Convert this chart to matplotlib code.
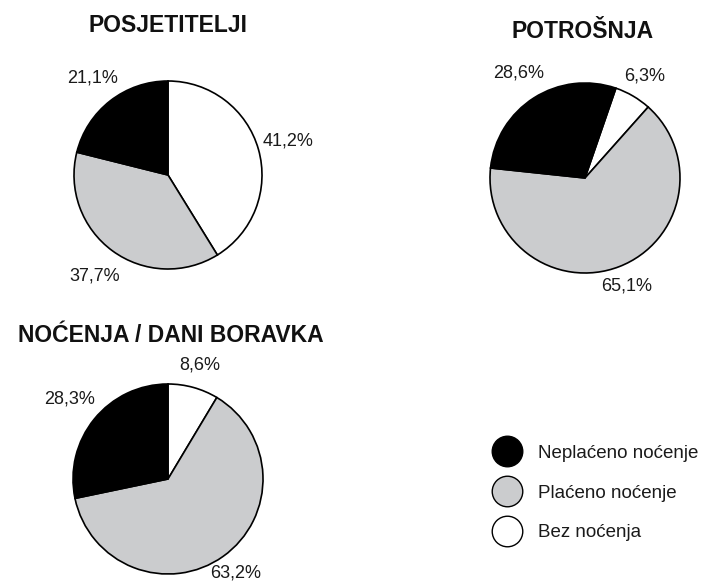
"""Three pie charts: visitors, spending and nights by accommodation type."""

import numpy as np
import matplotlib.pyplot as plt
from matplotlib.lines import Line2D

W, H = 703, 583

categories = ["Bez noćenja", "Plaćeno noćenje", "Neplaćeno noćenje"]
colors = ["#ffffff", "#cbccce", "#000000"]

posjetitelji = [41.2, 37.7, 21.1]
potrosnja = [6.3, 65.1, 28.6]
nocenja = [8.6, 63.2, 28.3]

titles = ["POSJETITELJI", "POTROŠNJA", "NOĆENJA / DANI BORAVKA"]


def fmt(v):
    return f"{v:.1f}%".replace(".", ",")


def add_pie(fig, values, cx, cy, r, start, dists):
    pad = 1.04
    s = r * pad
    ax = fig.add_axes([(cx - s) / W, 1 - (cy + s) / H, 2 * s / W, 2 * s / H])
    wedges, texts = ax.pie(values, colors=colors, startangle=start,
                           counterclock=False,
                           labels=[fmt(v) for v in values],
                           wedgeprops=dict(edgecolor="black", linewidth=1.2),
                           textprops=dict(fontsize=13, color="#1a1a1a"))
    # put each label on its wedge's mid angle at its own distance
    for w, t, d in zip(wedges, texts, dists):
        mid = np.deg2rad((w.theta1 + w.theta2) / 2)
        t.set_position((d * np.cos(mid), d * np.sin(mid)))
        t.set_ha("center")
        t.set_va("center")
    ax.set_xlim(-pad, pad)
    ax.set_ylim(-pad, pad)
    ax.set_aspect("equal")
    ax.axis("off")
    return ax


def main():
    plt.rcParams["font.family"] = ["Liberation Sans", "DejaVu Sans"]

    fig = plt.figure(figsize=(W / 100, H / 100), dpi=100)

    add_pie(fig, posjetitelji, 168, 175, 94, 90, [1.33, 1.33, 1.31])
    add_pie(fig, potrosnja, 585, 178, 95, 71, [1.25, 1.22, 1.31])
    add_pie(fig, nocenja, 168, 479, 95, 90, [1.25, 1.22, 1.34])

    title_kw = dict(fontsize=16.5, fontweight="bold", color="#111111",
                    ha="center", va="center")
    fig.text(168 / W, 1 - 25 / H, titles[0], **title_kw)
    fig.text(583 / W, 1 - 32 / H, titles[1], **title_kw)
    fig.text(171 / W, 1 - 335 / H, titles[2], **title_kw)

    # legend order: black, grey, white
    handles = [
        Line2D([], [], linestyle="none", marker="o", markersize=22,
               markerfacecolor=colors[i], markeredgecolor="black",
               markeredgewidth=1.0)
        for i in (2, 1, 0)
    ]
    labels = [categories[i] for i in (2, 1, 0)]
    fig.legend(handles, labels, loc="center left",
               bbox_to_anchor=(486 / W, 1 - 493 / H), frameon=False,
               fontsize=13.5, labelspacing=1.2, handlelength=1.2,
               handletextpad=1.05, borderpad=0, labelcolor="#1a1a1a")

    fig.savefig("out.png", dpi=100)


if __name__ == "__main__":
    main()
